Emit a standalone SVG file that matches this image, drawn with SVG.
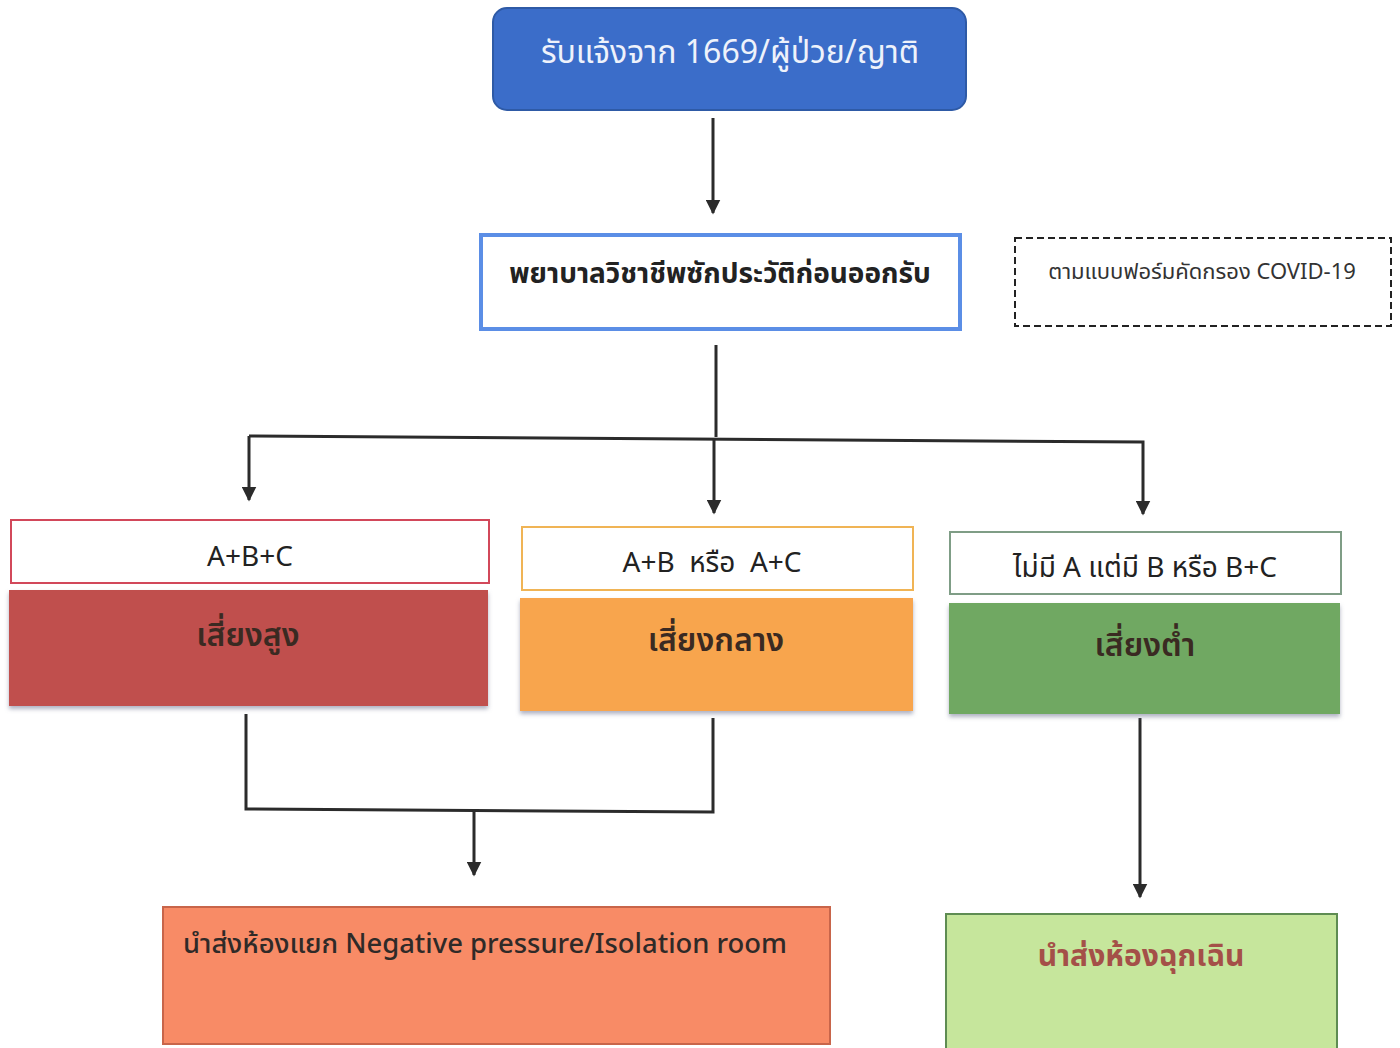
<svg xmlns="http://www.w3.org/2000/svg" width="1400" height="1048" viewBox="0 0 1400 1048">
  <defs>
    <marker id="arrow" viewBox="0 0 10 10" refX="9" refY="5" markerWidth="5" markerHeight="5" orient="auto" markerUnits="strokeWidth">
      <path d="M0,0 L10,5 L0,10 Z" fill="#2b2b2b"/>
    </marker>
    <filter id="shadow" x="-5%" y="-10%" width="110%" height="130%">
      <feDropShadow dx="0" dy="3" stdDeviation="2" flood-color="#7a7f9a" flood-opacity="0.6"/>
    </filter>
  </defs>
  <style>
    text { font-family: "Noto Sans", "Noto Sans Thai", "DejaVu Sans", Tahoma, sans-serif; }
    .conn { fill: none; stroke: #2b2b2b; stroke-width: 3; }
    .hdr { fill: #ffffff; stroke-width: 2; }
    .hdrtext { font-size: 28px; fill: #222; text-anchor: middle; }
    .risk { font-size: 32px; font-weight: 600; fill: #3a2a22; text-anchor: middle; }
  </style>
  <rect width="1400" height="1048" fill="#ffffff"/>

  <!-- connectors -->
  <g id="connectors">
    <line class="conn" x1="713" y1="118" x2="713" y2="213" marker-end="url(#arrow)"/>
    <path class="conn" d="M716,345 L716,437"/>
    <path class="conn" d="M249,436 L1143,442 L1143,514" marker-end="url(#arrow)"/>
    <line class="conn" x1="249" y1="436" x2="249" y2="500" marker-end="url(#arrow)"/>
    <line class="conn" x1="714" y1="438" x2="714" y2="513" marker-end="url(#arrow)"/>
    <path class="conn" d="M246,714 L246,809 L713,812 L713,718"/>
    <line class="conn" x1="474" y1="810" x2="474" y2="875" marker-end="url(#arrow)"/>
    <line class="conn" x1="1140" y1="718" x2="1140" y2="897" marker-end="url(#arrow)"/>
  </g>

  <!-- start: call received -->
  <g id="node-start">
    <rect x="493" y="8" width="473" height="102" rx="14" fill="#3b6dc9" stroke="#2e5aa6" stroke-width="2"/>
    <text x="730" y="63" font-size="32" fill="#eef2fb" text-anchor="middle">รับแจ้งจาก 1669/ผู้ป่วย/ญาติ</text>
  </g>

  <!-- nurse takes history -->
  <g id="node-history">
    <rect x="481" y="235" width="479" height="94" fill="#ffffff" stroke="#5b8ee6" stroke-width="4"/>
    <text x="720" y="283" font-size="28" font-weight="bold" fill="#222" text-anchor="middle">พยาบาลวิชาชีพซักประวัติก่อนออกรับ</text>
  </g>

  <!-- screening form note -->
  <g id="node-form">
    <rect x="1015" y="238" width="376" height="88" fill="none" stroke="#222" stroke-width="2" stroke-dasharray="7,4"/>
    <text x="1202" y="279" font-size="22" fill="#333" text-anchor="middle">ตามแบบฟอร์มคัดกรอง COVID-19</text>
  </g>

  <!-- high risk -->
  <g id="node-high">
    <rect class="hdr" x="11" y="520" width="478" height="63" stroke="#d2485a"/>
    <text class="hdrtext" x="250" y="566">A+B+C</text>
    <rect x="9" y="590" width="479" height="116" fill="#c0504d" filter="url(#shadow)"/>
    <text class="risk" x="248" y="646">เสี่ยงสูง</text>
  </g>

  <!-- medium risk -->
  <g id="node-medium">
    <rect class="hdr" x="522" y="527" width="391" height="63" stroke="#f0b455"/>
    <text class="hdrtext" x="712" y="572" xml:space="preserve">A+B  หรือ  A+C</text>
    <rect x="520" y="598" width="393" height="113" fill="#f8a54e" filter="url(#shadow)"/>
    <text class="risk" x="716" y="651">เสี่ยงกลาง</text>
  </g>

  <!-- low risk -->
  <g id="node-low">
    <rect class="hdr" x="950" y="532" width="391" height="62" stroke="#7f9d86"/>
    <text class="hdrtext" x="1145" y="577" font-size="29">ไม่มี A แต่มี B หรือ B+C</text>
    <rect x="949" y="603" width="391" height="111" fill="#70a862" filter="url(#shadow)"/>
    <text class="risk" x="1145" y="656">เสี่ยงต่ำ</text>
  </g>

  <!-- isolation room -->
  <g id="node-isolation">
    <rect x="163" y="907" width="667" height="137" fill="#f88b66" stroke="#c8654a" stroke-width="2"/>
    <text x="183" y="953" font-size="27.4" font-weight="500" fill="#2f2a28">นำส่งห้องแยก Negative pressure/Isolation room</text>
  </g>

  <!-- emergency room -->
  <g id="node-emergency">
    <rect x="946" y="914" width="391" height="140" fill="#c6e69c" stroke="#5e8c52" stroke-width="2"/>
    <text x="1141" y="966" font-size="30" font-weight="bold" fill="#a45048" text-anchor="middle">นำส่งห้องฉุกเฉิน</text>
  </g>
</svg>
